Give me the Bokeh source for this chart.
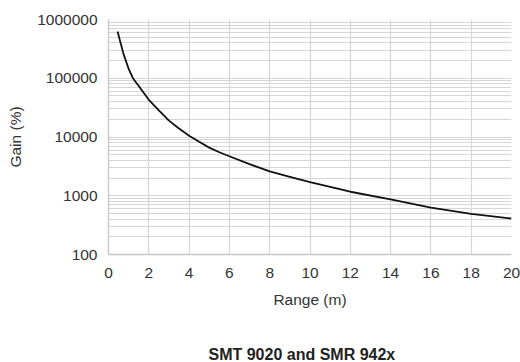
from bokeh.plotting import figure
from bokeh.models import Range1d, FixedTicker, PrintfTickFormatter, Title
from bokeh.embed import file_html
from bokeh.resources import INLINE

range_m = [0.45, 0.75, 1.0, 1.23, 1.5, 2, 2.5, 3, 3.5, 4, 4.5, 5, 5.5, 6, 7, 8, 9, 10, 12, 14, 16, 18, 20]
gain_pct = [625000, 255000, 145000, 98000, 74000, 43000, 28500, 19000, 14000, 10500, 8300, 6600,
            5500, 4700, 3450, 2600, 2100, 1700, 1170, 870, 630, 490, 410]
x_ticks = [0, 2, 4, 6, 8, 10, 12, 14, 16, 18, 20]
y_ticks = [100, 1000, 10000, 100000, 1000000]
y_minor = [m * d for d in [100, 1000, 10000, 100000] for m in range(2, 10)]
title_text = "SMT 9020 and SMR 942x"
x_label = "Range (m)"
y_label = "Gain (%)"

FONT = "Liberation Sans"
GRID = "#d6d6d6"
TXT = "#333333"

p = figure(width=520, height=362, y_axis_type="log",
           x_range=Range1d(0, 20), y_range=Range1d(100, 1000000),
           output_backend="svg", toolbar_location=None,
           min_border_left=108, min_border_right=9, min_border_top=19, min_border_bottom=108)
p.outline_line_color = None
p.background_fill_color = "white"
p.border_fill_color = "white"

p.xaxis.ticker = FixedTicker(ticks=x_ticks)
p.yaxis.ticker = FixedTicker(ticks=y_ticks, minor_ticks=y_minor)
p.yaxis.formatter = PrintfTickFormatter(format="%d")

for ax in (p.xaxis, p.yaxis):
    ax.axis_line_color = "#c8c8c8"
    ax.axis_line_width = 1.5
    ax.major_tick_line_color = None
    ax.minor_tick_line_color = None
    ax.major_tick_out = 0
    ax.major_tick_in = 0
    ax.minor_tick_out = 0
    ax.major_label_text_font = FONT
    ax.major_label_text_font_size = "15.5px"
    ax.major_label_text_color = TXT
    ax.axis_label_text_font = FONT
    ax.axis_label_text_font_size = "15.5px"
    ax.axis_label_text_font_style = "normal"
    ax.axis_label_text_color = TXT

p.xaxis.axis_label = x_label
p.yaxis.axis_label = y_label
p.xaxis.major_label_standoff = 13
p.yaxis.major_label_standoff = 11
p.xaxis.axis_label_standoff = 10
p.yaxis.axis_label_standoff = 10

p.xgrid.ticker = FixedTicker(ticks=x_ticks)
p.xgrid.grid_line_color = GRID
p.xgrid.grid_line_width = 1.2
p.ygrid.grid_line_color = GRID
p.ygrid.grid_line_width = 1.2
p.ygrid.minor_grid_line_color = GRID
p.ygrid.minor_grid_line_width = 1.2

p.line(range_m, gain_pct, line_color="#111111", line_width=1.8)

spacer = Title(text=" ", text_font=FONT, text_font_size="16px", standoff=14)
p.add_layout(spacer, "below")
t = Title(text=title_text, align="left", text_font=FONT, text_font_size="16px",
          text_font_style="bold", text_color="#222222", standoff=0, offset=100)
p.add_layout(t, "below")

open("out.html", "w").write(file_html(p, INLINE))
